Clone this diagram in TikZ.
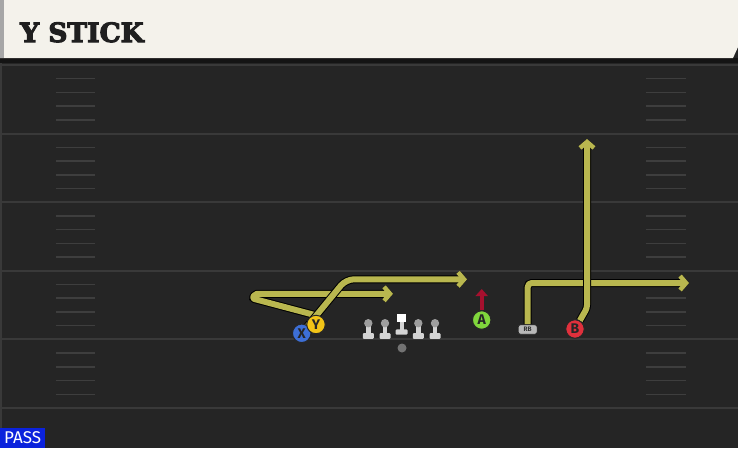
\documentclass[tikz,border=0pt]{standalone}
\usepackage{fontspec}
\setmainfont{Fira Sans}
\newfontfamily\titlefont[UprightFont={* Bold}, FakeBold=4]{DejaVu Serif}
\usetikzlibrary{arrows.meta}

\definecolor{fieldbg}{HTML}{252525}
\definecolor{yardgray}{HTML}{393939}
\definecolor{hashgray}{HTML}{3E3E3E}
\definecolor{headercream}{HTML}{F4F2EB}
\definecolor{routeyellow}{HTML}{B9B74F}
\definecolor{passblue}{HTML}{0B22DC}
\definecolor{xblue}{HTML}{3D6FD6}
\definecolor{yyellow}{HTML}{F2C417}
\definecolor{agreen}{HTML}{80D63C}
\definecolor{bred}{HTML}{E0303C}
\definecolor{blockred}{HTML}{A5102E}
\definecolor{linegray}{HTML}{D4D4D4}

\pgfdeclarelayer{field}
\pgfdeclarelayer{routes}
\pgfsetlayers{field,routes,main}

\tikzset{
  player/.style={circle, draw=black!85, line width=1pt, minimum size=18.5pt,
    inner sep=0pt, text=black!85, font=\bfseries\fontsize{14}{14}\selectfont},
  route/.style={draw=routeyellow, line width=6pt, line join=round,
    -{Straight Barb[length=6pt,width=14pt,line width=4.5pt]},
    preaction={draw=black, line width=8pt}},
  yardline/.style={draw=yardgray, line width=2pt},
  hashmark/.style={draw=hashgray, line width=1.5pt}
}

\begin{document}
\begin{tikzpicture}[x=1pt,y=-1pt]
\useasboundingbox (0,0) rectangle (738,448);

% field and header
\begin{pgfonlayer}{field}
\fill[fieldbg] (0,0) rectangle (738,448);
\fill[yardgray] (0,60) rectangle (2,448);
\foreach \k in {0,...,5}
\draw[yardline] (0,65+68.6*\k) -- (738,65+68.6*\k);
\foreach \k in {0,...,4}
\foreach \h in {1,...,4} {
\draw[hashmark] (56,65+68.6*\k+13.72*\h) -- (95,65+68.6*\k+13.72*\h);
\draw[hashmark] (646,65+68.6*\k+13.72*\h) -- (686,65+68.6*\k+13.72*\h);
}
\fill[black!92] (0,58) rectangle (738,63);
\fill[headercream] (0,0) -- (738,0) -- (738,47) -- (733,58) -- (0,58) -- cycle;
\fill[black!35] (0,0) rectangle (4,58);
% line
\foreach \c in {368.3,385,418.3,435} {
\fill[linegray, rounded corners=1pt] (\c-5.5,333) rectangle (\c+5.5,338.8);
\fill[linegray] (\c-2.2,324) rectangle (\c+2.2,333.5);
\fill[black!38] (\c,323.2) circle[radius=4.2pt];
}
\fill[linegray, rounded corners=1pt] (395.6,329.4) rectangle (407.6,334.6);
\fill[linegray] (399.6,321) rectangle (403.6,330);
\fill[white] (397.4,313.8) rectangle (405.8,322.2);
\fill[black!55] (402,348) circle[radius=4.5pt];
\end{pgfonlayer}

\node[anchor=base west, text=black!88, inner sep=0pt,
  font=\titlefont\fontsize{26.5}{26.5}\selectfont] (title) at (20,42) {Y STICK};
\node[anchor=south west, fill=passblue, text=white, inner sep=0pt,
  minimum width=45pt, minimum height=20pt,
  font=\fontsize{17}{17}\selectfont] (pass) at (0,448) {PASS};

% players
\node[player, fill=xblue] (X) at (301.7,333.3) {X};
\node[player, fill=yyellow] (Y) at (316,324.5) {Y};
\node[player, fill=agreen] (A) at (481.7,320) {A};
\node[player, fill=bred] (B) at (575,329) {B};
\node[draw=black!85, fill=black!28, rounded corners=2.5pt, line width=0.7pt,
  minimum width=19pt, minimum height=9.5pt, inner sep=0pt, text=black!80,
  font=\bfseries\fontsize{6.5}{6.5}\selectfont] (RB) at (527.7,329.5) {RB};
\coordinate (Atip) at (481.7,289);

% routes
\begin{pgfonlayer}{routes}
\draw[route, rounded corners=2pt] (Y.100) -- (252.5,298.5) -- (255,293.8) -- (393,293.8);
\draw[route, rounded corners=4pt] (RB.north) -- (527.7,283) -- (689,283);
\draw[route, rounded corners=3pt] (B) -- (587,308) -- (587,139);
\draw[route, rounded corners=8pt] (X.center) -- (346,279.3) -- (467,279.3);
\draw[blockred, line width=4pt, -{Triangle[length=7pt,width=12pt]}] (A.north) -- (Atip);
\end{pgfonlayer}
\end{tikzpicture}
\end{document}
